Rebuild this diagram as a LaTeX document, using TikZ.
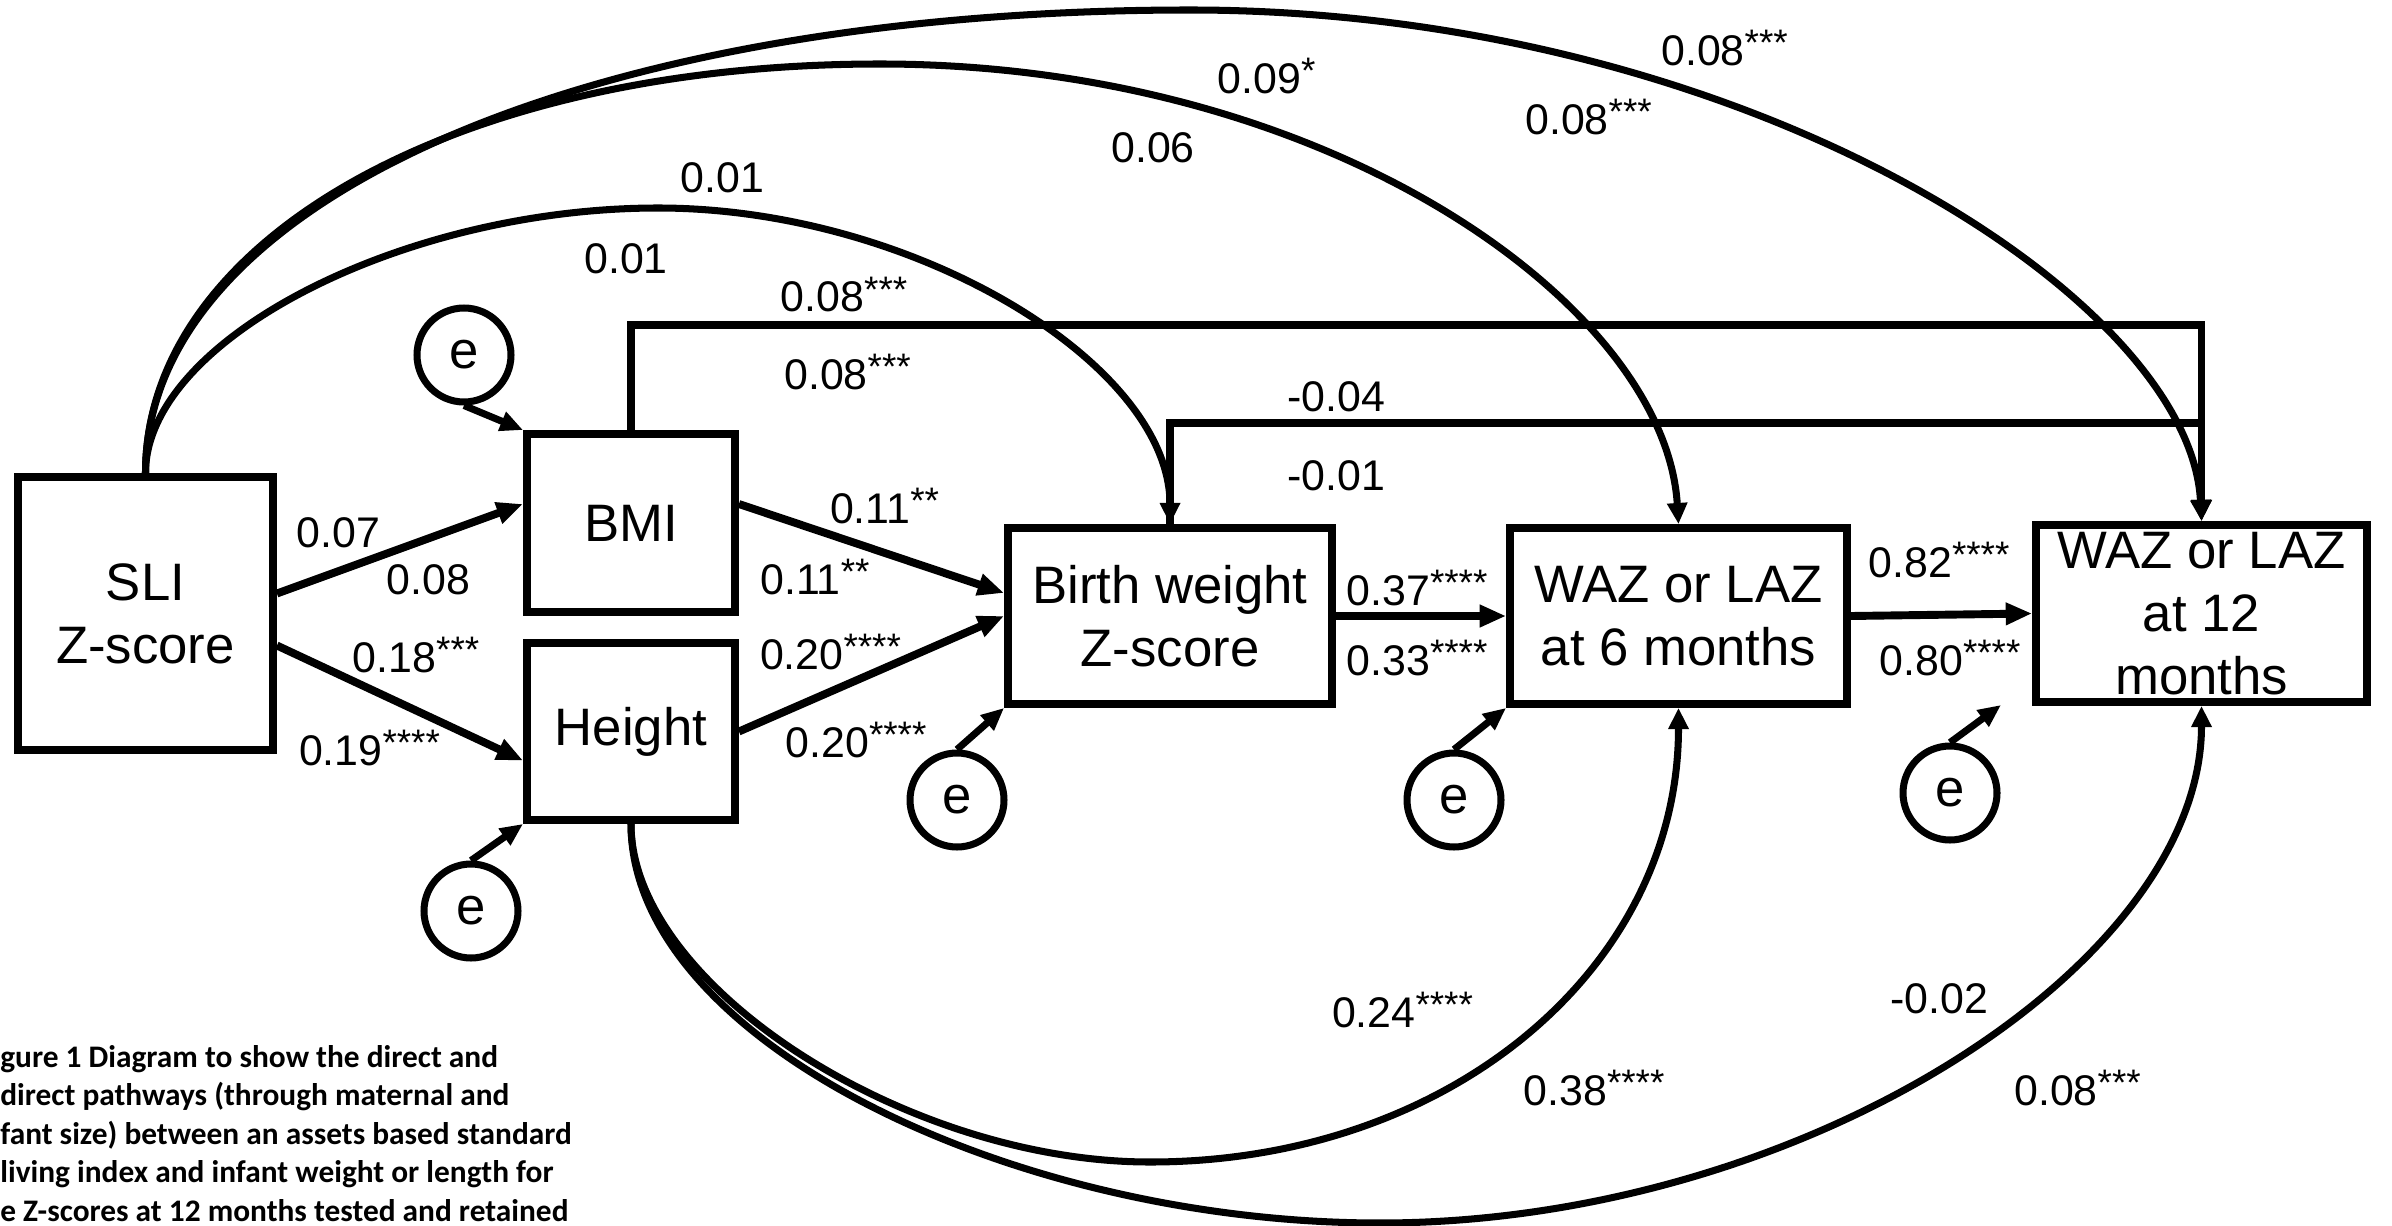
\documentclass[tikz,border=0pt]{standalone}
\usepackage{fontspec}
\setmainfont{Liberation Sans}
\newfontfamily\capfont{Carlito}
\usetikzlibrary{arrows.meta,calc}
\newcommand\boxfont{\fontsize{30pt}{35.9pt}\selectfont}
\newcommand\labfont{\fontsize{24.4pt}{29pt}\selectfont}
\newcommand\capsize{\fontsize{17.85pt}{21.9pt}\selectfont}
\newcommand\sig[1]{\raisebox{0.23em}{\fontsize{21pt}{21pt}\selectfont #1}}
\begin{document}
\begin{tikzpicture}[x=0.02cm,y=-0.02cm,
  box/.style={draw, line width=4.5pt, rectangle, inner sep=0pt, align=center, font=\boxfont},
  err/.style={draw, circle, line width=4pt, minimum size=1.88cm, inner sep=0pt, font=\boxfont},
  lab/.style={font=\labfont, inner sep=0pt, anchor=base},
  arr/.style={line width=4.5pt, -{Triangle[length=15pt,width=12pt]}},
  earr/.style={line width=4pt, -{Triangle[length=13pt,width=11pt]}},
  curv/.style={line width=4pt, -{Triangle[length=12pt,width=11pt]}},
  orth/.style={line width=4.5pt, -{Triangle[length=12pt,width=11pt]}},
]
\path[use as bounding box, fill=white] (0,0) rectangle (2392,1226);

% boxes
\node[box, minimum width=5.1cm, minimum height=5.46cm] (sli) at (145.5,613.5) {SLI\\Z-score};
\node[box, minimum width=4.16cm, minimum height=3.56cm] (bmi) at (631,523) {BMI};
\node[box, minimum width=4.16cm, minimum height=3.54cm] (height) at (631,731.5) {Height};
\node[box, minimum width=6.48cm, minimum height=3.52cm] (bw) at (1170,616) {Birth weight\\Z-score};
\node[box, minimum width=6.74cm, minimum height=3.52cm] (waz6) at (1678.5,616) {WAZ or LAZ\\at 6 months};
\node[box, minimum width=6.62cm, minimum height=3.54cm] (waz12) at (2201.5,613.5) {WAZ or LAZ\\at 12\\months};

% error terms
\node[err] (eBMI) at (464,355) {e};
\node[err] (eH) at (471,911) {e};
\node[err] (eBW) at (957,800) {e};
\node[err] (eW6) at (1454,800) {e};
\node[err] (eW12) at (1950,793) {e};
\coordinate (eW12tip) at (2001,705);

% waypoints of the curved paths
\coordinate (pA) at (1190,10);
\coordinate (pB) at (880,64);
\coordinate (pC) at (658,208);
\coordinate (pD) at (1150,1162);
\coordinate (pE) at (1380,1223);

% straight paths
\draw[arr] ($(sli.east)+(0,-20)$) -- ($(bmi.west)+(0,-19)$);
\draw[arr] ($(sli.east)+(0,32)$) -- ($(height.west)+(0,29)$);
\draw[arr] ($(bmi.east)+(0,-19)$) -- ($(bw.west)+(0,-23)$);
\draw[arr] (height.east) -- (bw.west);
\draw[arr] (bw.east) -- (waz6.west);
\draw[arr] (waz6.east) -- (waz12.west);

% error arrows
\draw[earr] (eBMI.south) -- (bmi.north west);
\draw[earr] (eH.north) -- (height.south west);
\draw[earr] (eBW.north) -- (bw.south west);
\draw[earr] (eW6.north) -- (waz6.south west);
\draw[earr] (eW12.north) -- (eW12tip);

% right-angled paths
\draw[orth] (bmi.north) -- ++(0,-105) -| (waz12.north);
\draw[orth] (bw.north) -- ++(0,-101) -| (waz12.north);

% curved paths
\draw[curv] (sli.north) .. controls +(0,-271) and +(-606,0) .. (pA) .. controls +(550,0) and +(-11.5,-225) .. (waz12.north);
\draw[curv] (sli.north) .. controls +(0,-230) and +(-430,0) .. (pB) .. controls +(450,0) and +(-13.5,-218) .. (waz6.north);
\draw[curv] (sli.north) .. controls +(0,-133) and +(-256,0) .. (pC) .. controls +(256,0) and +(0,-160) .. (bw.north);
\draw[curv] (height.south) .. controls +(0,161) and +(-244,0) .. (pD) .. controls +(300,0) and +(0,260) .. (waz6.south);
\draw[curv] (height.south) .. controls +(0,215) and +(-370,0) .. (pE) .. controls +(420,0) and +(0,260) .. (waz12.south);

% labels
\node[lab] (l01a) at (722.5,192.5) {0.01};
\node[lab] (l01b) at (626,273.5) {0.01};
\node[lab] (l06) at (1153,162.5) {0.06};
\node[lab] (l09) at (1266.5,93.5) {0.09\sig{*}};
\node[lab] (l08a) at (1724.5,65.5) {0.08\sig{***}};
\node[lab] (l08b) at (1588.5,134.5) {0.08\sig{***}};
\node[lab] (l08c) at (844,312) {0.08\sig{***}};
\node[lab] (l08d) at (847.5,389.5) {0.08\sig{***}};
\node[lab] (l04) at (1336.5,411) {-0.04};
\node[lab] (l01c) at (1336.5,490) {-0.01};
\node[lab] (l07) at (338.5,547.5) {0.07};
\node[lab] (l08e) at (428.5,594.5) {0.08};
\node[lab] (l18) at (416,672.5) {0.18\sig{***}};
\node[lab] (l19) at (369.5,765.5) {0.19\sig{****}};
\node[lab] (l11a) at (884.5,523.5) {0.11\sig{**}};
\node[lab] (l11b) at (815,594.5) {0.11\sig{**}};
\node[lab] (l20a) at (830.5,669.5) {0.20\sig{****}};
\node[lab] (l20b) at (856,757.5) {0.20\sig{****}};
\node[lab] (l37) at (1417,605) {0.37\sig{****}};
\node[lab] (l33) at (1417,675.5) {0.33\sig{****}};
\node[lab] (l82) at (1939,577.5) {0.82\sig{****}};
\node[lab] (l80) at (1950,675.5) {0.80\sig{****}};
\node[lab] (l24) at (1402.5,1027.5) {0.24\sig{****}};
\node[lab] (l38) at (1594,1105) {0.38\sig{****}};
\node[lab] (l02) at (1939,1013.5) {-0.02};
\node[lab] (l08f) at (2077.5,1105) {0.08\sig{***}};

% caption
\node[font=\capfont\bfseries\capsize, align=left, anchor=base west, inner sep=0pt] (cap) at (0,1221)
  {gure 1 Diagram to show the direct and\\
   direct pathways (through maternal and\\
   fant size) between an assets based standard\\
   living index and infant weight or length for\\
   e Z-scores at 12 months tested and retained};
\end{tikzpicture}
\end{document}
